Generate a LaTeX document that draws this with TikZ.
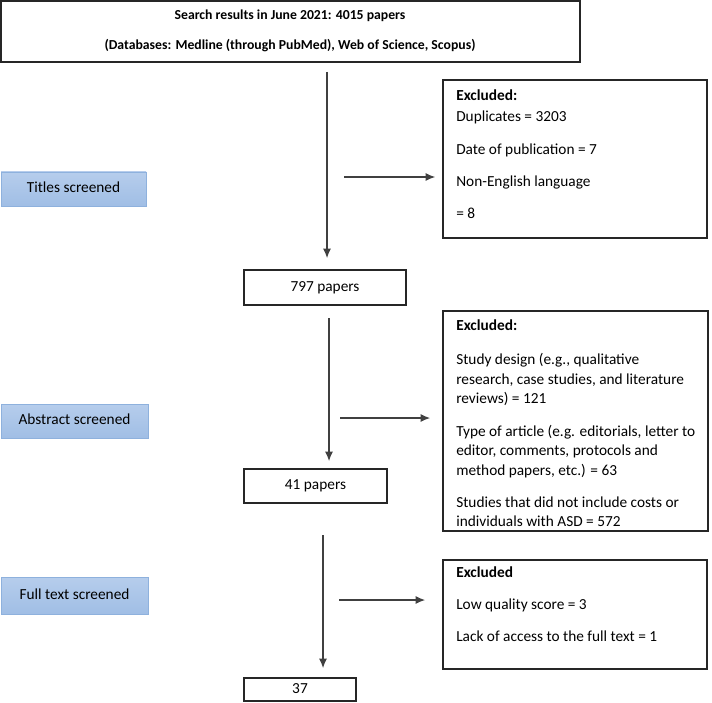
\documentclass[tikz,border=0pt]{standalone}
\usepackage{fontspec}
\setmainfont{Carlito}
\usetikzlibrary{arrows.meta,fit}
\begin{document}
\begin{tikzpicture}[x=0.75pt,y=-0.75pt,
  box/.style={draw=black!85, line width=0.8pt, inner sep=0pt},
  stage/.style={draw={rgb,255:red,142;green,177;blue,221}, line width=0.6pt, inner sep=0pt,
     top color={rgb,255:red,182;green,205;blue,236}, bottom color={rgb,255:red,160;green,190;blue,229}},
  txt/.style={inner sep=0pt, font=\fontsize{11.5}{14.6}\selectfont, text height=8pt, text depth=2.5pt},
  head/.style={inner sep=0pt, font=\fontsize{10.3}{13}\selectfont\bfseries, text height=7.5pt, text depth=2.3pt},
  arr/.style={draw=black!75, line width=0.8pt, -{Latex[length=7pt,width=6pt]}}
]
\useasboundingbox (0,0) rectangle (712,702);
% top box
\node[box, fit={(1,1) (580,62)}] (top) {};
\node[head] (t1) at (290,16) {Search results in June 2021: 4015 papers};
\node[head] (t2) at (290,46) {(Databases: Medline (through PubMed), Web of Science, Scopus)};
% stage boxes
\node[stage, fit={(1,172) (146,206)}] (s1) {};
\node[txt] at (s1.center) {Titles screened};
\node[stage, fit={(1,404) (148,438)}] (s2) {};
\node[txt] at (s2.center) {Abstract screened};
\node[stage, fit={(1,577) (148,614)}] (s3) {};
\node[txt] at (s3.center) {Full text screened};
% count boxes
\node[box, fit={(244,270) (406,305)}] (c1) {};
\node[txt] at (c1.center) {797 papers};
\node[box, fit={(244,469) (387,503)}] (c2) {};
\node[txt] at (c2.center) {41 papers};
\node[box, fit={(244,678) (356,701)}] (c3) {};
\node[txt] at (c3.center) {37};
% excluded box 1
\node[box, fit={(443,80) (707,238)}] (e1) {};
\node[txt, anchor=west, font=\fontsize{11.5}{14.6}\selectfont\bfseries] at (456,97) {Excluded:};
\node[txt, anchor=west] at (456,118) {Duplicates = 3203};
\node[txt, anchor=west] at (456,151) {Date of publication = 7};
\node[txt, anchor=west] at (456,183) {Non-English language};
\node[txt, anchor=west] at (456,215) {= 8};
% excluded box 2
\node[box, fit={(443,311) (708,531)}] (e2) {};
\node[txt, anchor=west, font=\fontsize{11.5}{14.6}\selectfont\bfseries] at (456,327) {Excluded:};
\node[txt, anchor=west] at (456,361) {Study design (e.g., qualitative};
\node[txt, anchor=west] at (456,381) {research, case studies, and literature};
\node[txt, anchor=west] at (456,400) {reviews) = 121};
\node[txt, anchor=west] at (456,433) {Type of article (e.g. editorials, letter to};
\node[txt, anchor=west] at (456,452) {editor, comments, protocols and};
\node[txt, anchor=west] at (456,472) {method papers, etc.) = 63};
\node[txt, anchor=west] at (456,504) {Studies that did not include costs or};
\node[txt, anchor=west] at (456,523) {individuals with ASD = 572};
% excluded box 3
\node[box, fit={(443,560) (707,669)}] (e3) {};
\node[txt, anchor=west, font=\fontsize{11.5}{14.6}\selectfont\bfseries] at (456,574) {Excluded};
\node[txt, anchor=west] at (456,606) {Low quality score = 3};
\node[txt, anchor=west] at (456,638) {Lack of access to the full text = 1};
% connector ends
\coordinate (a1s) at (327,72);  \coordinate (a1e) at (327,258);
\coordinate (a2s) at (329,318); \coordinate (a2e) at (329,461);
\coordinate (a3s) at (323,535); \coordinate (a3e) at (323,668);
\coordinate (h1s) at (344,177); \coordinate (h1e) at (435,177);
\coordinate (h2s) at (340,418); \coordinate (h2e) at (430,418);
\coordinate (h3s) at (339,600); \coordinate (h3e) at (425,600);
\draw[arr] (a1s) -- (a1e);
\draw[arr] (a2s) -- (a2e);
\draw[arr] (a3s) -- (a3e);
\draw[arr] (h1s) -- (h1e);
\draw[arr] (h2s) -- (h2e);
\draw[arr] (h3s) -- (h3e);
\end{tikzpicture}
\end{document}
